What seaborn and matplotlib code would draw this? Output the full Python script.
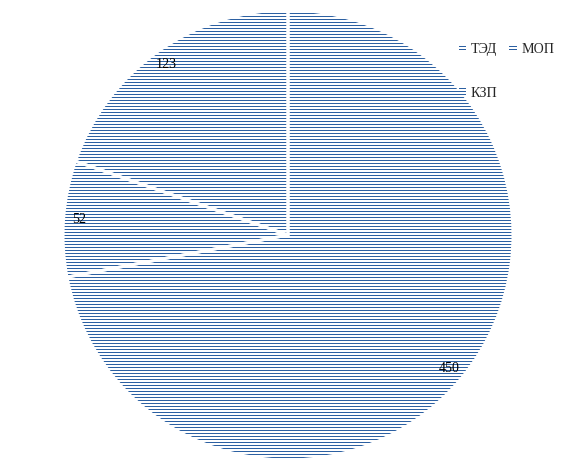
import matplotlib
matplotlib.use("Agg")
import matplotlib.pyplot as plt
import seaborn as sns

# data
labels = ["ТЭД", "КЗП", "МОП"]
values = [123, 52, 450]

blue = "#2c60a2"

sns.set_theme(style="white")
plt.rcParams["font.family"] = ["Liberation Serif", "DejaVu Serif"]
plt.rcParams["hatch.color"] = blue
plt.rcParams["hatch.linewidth"] = 1.0

fig = plt.figure(figsize=(576 / 72, 470 / 72), dpi=72)
ax = fig.add_axes([63 / 576, 10 / 470, 450 / 576, 450 / 470])

total = sum(values)
wedges, texts, autotexts = ax.pie(
    values,
    startangle=90,
    counterclock=True,
    colors=["white"] * len(values),
    autopct=lambda p: f"{round(p * total / 100)}",
    pctdistance=0.93,
    wedgeprops=dict(hatch="----", edgecolor=blue, linewidth=0),
    textprops=dict(fontsize=14, color="black"),
)
# white separators between slices
ax.pie(
    values,
    startangle=90,
    counterclock=True,
    colors=["none"] * len(values),
    wedgeprops=dict(edgecolor="white", linewidth=3, fill=False),
)
ax.set_xlim(-1, 1)
ax.set_ylim(-1, 1)
ax.set_aspect("equal")
ax.axis("off")

ax.legend(
    wedges, labels,
    ncol=2,
    frameon=False,
    fontsize=14,
    loc="upper left",
    bbox_to_anchor=(446 / 576, 440 / 470),
    bbox_transform=fig.transFigure,
    handlelength=0.55,
    handleheight=0.45,
    handletextpad=0.3,
    columnspacing=0.85,
    labelspacing=2.25,
)

fig.savefig("out.png", dpi=72)
